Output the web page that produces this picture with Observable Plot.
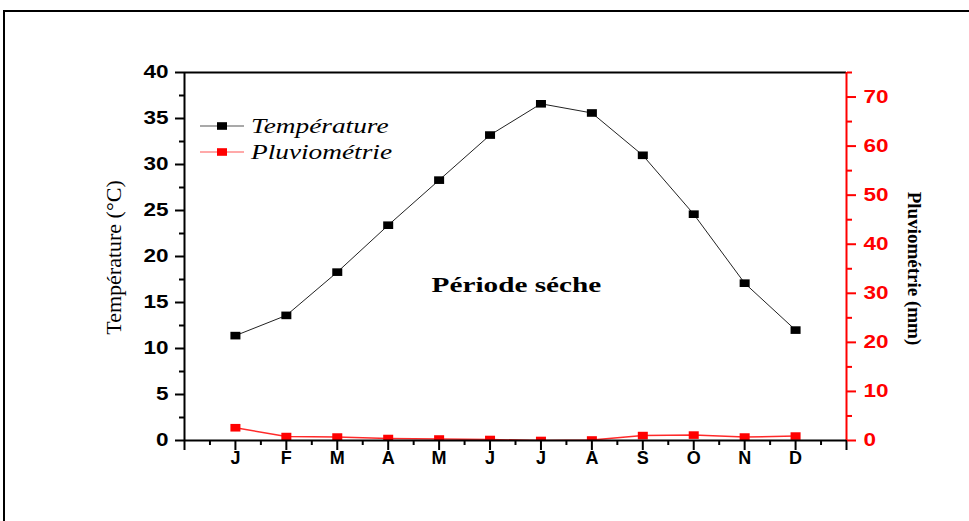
<!DOCTYPE html>
<html><head><meta charset="utf-8">
<script src="https://cdn.jsdelivr.net/npm/d3@7"></script>
<script src="https://cdn.jsdelivr.net/npm/@observablehq/plot@0.6"></script>
<style>
body{margin:0;background:#fff;overflow:hidden}
#wrap{position:relative;width:969px;height:521px;overflow:hidden;background:#fff}
#chart{position:absolute;left:0;top:0}
#border{position:absolute;left:3px;top:10px;width:1200px;height:800px;border:2px solid #000;pointer-events:none}
#legend{position:absolute;left:200px;top:113px;font-family:"Liberation Serif","Times New Roman",serif;font-style:italic;font-size:21px;color:#000}
.row{display:flex;align-items:center;height:26px;white-space:nowrap}
.row svg{margin-right:7px}
.row span{display:inline-block;transform:scaleX(1.3);transform-origin:left center}
</style></head>
<body><div id="wrap"><div id="chart"></div><div id="legend"></div><div id="border"></div></div>
<script>
const months = ["J","F","M","A","M","J","J","A","S","O","N","D"];
const temperature = [11.4, 13.6, 18.3, 23.4, 28.3, 33.2, 36.6, 35.6, 31.0, 24.6, 17.1, 12.0];
const precipitation = [2.6, 0.8, 0.7, 0.4, 0.3, 0.2, 0.0, 0.1, 1.0, 1.1, 0.7, 0.9];
const tempTicks = [0, 5, 10, 15, 20, 25, 30, 35, 40];
const precipTicks = [0, 10, 20, 30, 40, 50, 60, 70];
const seriesNames = ["Température", "Pluviométrie"];
const seriesColors = ["#000000", "#ff0000"];

const tempMax = 40, precipMax = 75;
const k = tempMax / precipMax;

const data = months.map((m, i) => ({x: i + 1, month: m, t: temperature[i], p: precipitation[i], pk: precipitation[i] * k}));

const rectSymbol = {draw(ctx, size) { const s = Math.sqrt(size); const w = s * 1.13, h = s * 0.86; ctx.rect(-w/2, -h/2, w, h); }};

const tickFont = {fontSize: 18, fontWeight: "bold", fontFamily: "Liberation Sans, Arial, sans-serif"};

const chart = Plot.plot({
  width: 969, height: 521,
  marginLeft: 184, marginRight: 123, marginTop: 72, marginBottom: 81,
  style: {background: "transparent", color: "#000", overflow: "visible"},
  x: {domain: [0, 13], label: null},
  y: {domain: [0, tempMax], label: null},
  marks: [
    // x axis ticks
    Plot.axisX(d3.range(0.5, 13, 1), {label: null, tickSize: 5, strokeWidth: 2, tickFormat: () => ""}),
    Plot.axisX(d3.range(0, 14, 1), {label: null, tickSize: 10, strokeWidth: 2, tickPadding: 1, tickFormat: d => months[d - 1] ?? "", ...tickFont}),
    // left axis
    Plot.axisY(d3.range(2.5, 40, 5), {label: null, tickSize: 5, strokeWidth: 2, tickFormat: () => ""}),
    Plot.axisY(tempTicks, {label: null, tickSize: 9, strokeWidth: 2, tickPadding: 7, ...tickFont}),
    // right axis
    Plot.axisY(d3.range(5, 80, 10).map(p => p * k), {label: null, anchor: "right", tickSize: 5, strokeWidth: 2, color: "#ff0000", tickFormat: () => ""}),
    Plot.axisY(precipTicks.map(p => p * k), {label: null, anchor: "right", tickSize: 9, strokeWidth: 2, tickPadding: 8, color: "#ff0000", tickFormat: d => String(Math.round(d / k)), ...tickFont}),
    // frame lines
    Plot.ruleY([tempMax], {stroke: "#000", strokeWidth: 2}),
    Plot.ruleX([0], {stroke: "#000", strokeWidth: 2}),
    Plot.ruleX([13], {stroke: "#ff0000", strokeWidth: 2}),
    // precipitation series
    Plot.line(data, {x: "x", y: "pk", stroke: "#ff2a2a", strokeWidth: 1.5, clip: true}),
    Plot.dot(data, {x: "x", y: "pk", symbol: rectSymbol, r: 5, fill: "#ff0000", stroke: "none", clip: true}),
    Plot.ruleY([0], {stroke: "#000", strokeWidth: 2}),
    // temperature series
    Plot.line(data, {x: "x", y: "t", stroke: "#222", strokeWidth: 1}),
    Plot.dot(data, {x: "x", y: "t", symbol: rectSymbol, r: 5, fill: "#000", stroke: "none"}),
    // annotation
    Plot.text(["Période séche"], {frameAnchor: "middle", dx: 1, dy: 28, fontSize: 22, fontWeight: "bold", fontFamily: "Liberation Serif, Times New Roman, serif", textAnchor: "middle"}),
    // axis titles
    Plot.text(["Température (°C)"], {frameAnchor: "left", dx: -71, dy: 1, rotate: -90, textAnchor: "middle", lineAnchor: "middle", fontSize: 22, fontFamily: "Liberation Serif, Times New Roman, serif"}),
    Plot.text(["Pluviométrie (mm)"], {frameAnchor: "right", dx: 68, dy: 12, rotate: 90, textAnchor: "middle", lineAnchor: "middle", fontSize: 19, fontWeight: "bold", fontFamily: "Liberation Serif, Times New Roman, serif"})
  ]
});
document.getElementById("chart").appendChild(chart);

// the reference's lettering is horizontally stretched: widen glyphs about their anchor
function stretch(el, s) {
  const b = el.getBBox();
  const anchor = getComputedStyle(el).textAnchor || el.getAttribute("text-anchor") || "start";
  const ax = anchor === "end" ? b.x + b.width : anchor === "middle" ? b.x + b.width / 2 : b.x;
  const tr = el.getAttribute("transform") || "";
  el.setAttribute("transform", `${tr} translate(${ax},0) scale(${s},1) translate(${-ax},0)`);
}
d3.select(chart).selectAll("text").each(function() {
  const t = this.textContent;
  if (/^\d+$/.test(t)) stretch(this, 1.25);
  else if (t === "Période séche") stretch(this, 1.33);
});

const legend = document.getElementById("legend");
seriesNames.forEach((name, i) => {
  const row = document.createElement("div");
  row.className = "row";
  const c = seriesColors[i];
  const lineC = i === 0 ? "#555" : "#ff5555";
  row.innerHTML = `<svg width="44" height="12"><line x1="0" y1="6" x2="44" y2="6" stroke="${lineC}" stroke-width="1.2"/><rect x="17" y="2.2" width="10" height="7.6" fill="${c}"/></svg><span>${name}</span>`;
  legend.appendChild(row);
});
</script>
</body></html>
